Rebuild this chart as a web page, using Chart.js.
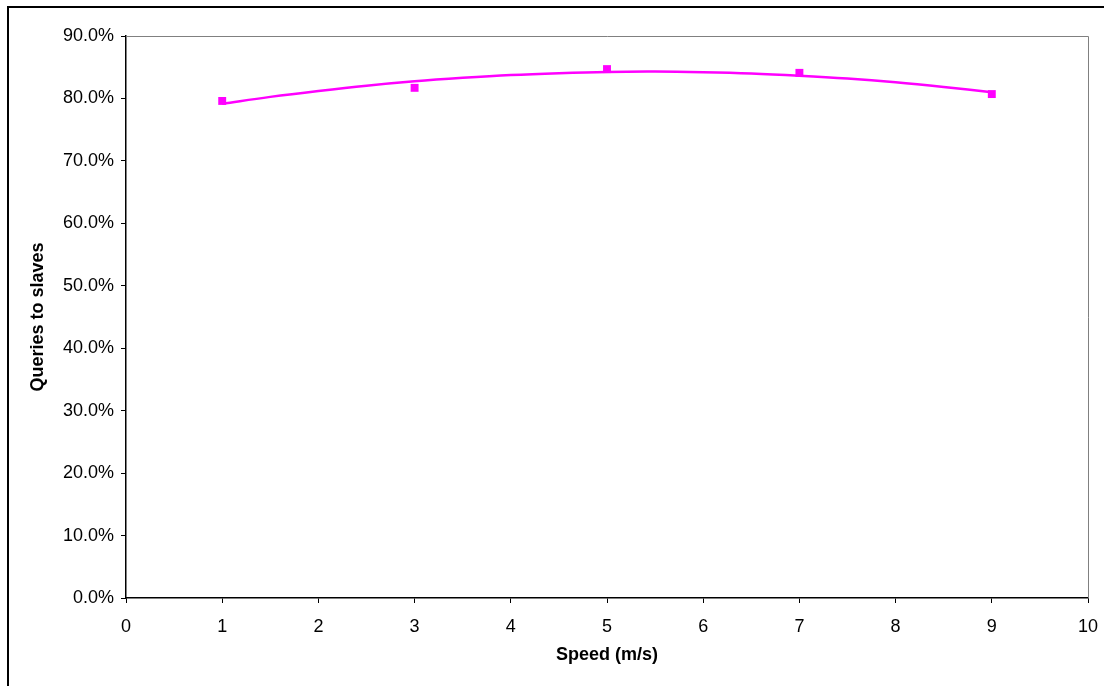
<!DOCTYPE html>
<html>
<head>
<meta charset="utf-8">
<script src="https://cdn.jsdelivr.net/npm/chart.js@4/dist/chart.umd.min.js"></script>
<style>
html,body{margin:0;padding:0;background:#fff;}
canvas{display:block;}
</style>
</head>
<body>
<canvas id="c" width="1104" height="686"></canvas>
<script>
// Measured points: speed (m/s) vs queries to slaves (%)
const speeds = [1, 3, 5, 7, 9];
const queriesPct = [79.6, 81.7, 84.7, 84.1, 80.7];
// Trend curve
const trendX = [1, 1.5, 2, 2.5, 3, 3.5, 4, 4.5, 5, 5.5, 6, 6.5, 7, 7.5, 8, 8.5, 9];
const trendY = [79.15, 80.25, 81.2, 82.05, 82.75, 83.3, 83.75, 84.05, 84.25, 84.3, 84.2, 84.0, 83.65, 83.2, 82.6, 81.85, 81.0];
const yTicks = [0, 10, 20, 30, 40, 50, 60, 70, 80, 90];
const xTicks = [0, 1, 2, 3, 4, 5, 6, 7, 8, 9, 10];
const xTitle = 'Speed (m/s)';
const yTitle = 'Queries to slaves';

const FONT = "'Liberation Sans', Arial, sans-serif";
const MAGENTA = '#FF00FF';

const framePlugin = {
  id: 'frame',
  beforeDatasetsDraw(chart) {
    const {ctx, chartArea: a} = chart;
    ctx.save();
    ctx.strokeStyle = '#808080';
    ctx.lineWidth = 1;
    ctx.beginPath();
    ctx.moveTo(a.left, a.top + 0.5);
    ctx.lineTo(a.right + 0.5, a.top + 0.5);
    ctx.lineTo(a.right + 0.5, a.bottom);
    ctx.stroke();
    ctx.restore();
  },
  afterDraw(chart) {
    const ctx = chart.ctx;
    ctx.save();
    ctx.strokeStyle = '#000';
    ctx.lineWidth = 2;
    ctx.beginPath();
    ctx.moveTo(8, chart.height + 5);
    ctx.lineTo(8, 7);
    ctx.lineTo(chart.width + 5, 7);
    ctx.stroke();
    ctx.restore();
  }
};

new Chart(document.getElementById('c'), {
  type: 'scatter',
  data: {
    datasets: [
      {
        type: 'line',
        data: trendX.map((x, i) => ({x, y: trendY[i]})),
        borderColor: MAGENTA,
        borderWidth: 2.5,
        pointRadius: 0,
        tension: 0.4,
        fill: false,
        order: 2
      },
      {
        data: speeds.map((x, i) => ({x, y: queriesPct[i]})),
        backgroundColor: MAGENTA,
        borderColor: MAGENTA,
        borderWidth: 0,
        pointStyle: 'rect',
        pointRadius: 5.6,
        showLine: false,
        order: 1
      }
    ]
  },
  options: {
    responsive: false,
    animation: false,
    layout: {padding: {left: 0, top: 36, right: 16, bottom: 0}},
    plugins: {legend: {display: false}, tooltip: {enabled: false}},
    scales: {
      x: {
        type: 'linear',
        min: 0, max: 10,
        afterBuildTicks(s) { s.ticks = xTicks.map(v => ({value: v})); },
        afterFit(s) { s.height = 88; s.paddingLeft = 0; s.paddingRight = 0; },
        border: {color: '#000', width: 1.5},
        grid: {drawOnChartArea: false, tickLength: 5, color: '#000', tickWidth: 1},
        ticks: {color: '#000', padding: 13, font: {family: FONT, size: 18}, maxRotation: 0},
        title: {display: true, text: xTitle, color: '#000', font: {family: FONT, size: 18, weight: 'bold'}, padding: {top: 0, bottom: 20}}
      },
      y: {
        type: 'linear',
        min: 0, max: 90,
        afterBuildTicks(s) { s.ticks = yTicks.map(v => ({value: v})); },
        afterFit(s) { s.width = 126; s.paddingTop = 0; s.paddingBottom = 0; },
        border: {color: '#000', width: 1.5},
        grid: {drawOnChartArea: false, tickLength: 5, color: '#000', tickWidth: 1},
        ticks: {color: '#000', padding: 7, font: {family: FONT, size: 18}, callback: v => Number(v).toFixed(1) + '%'},
        title: {display: true, text: yTitle, color: '#000', font: {family: FONT, size: 18, weight: 'bold'}, padding: {top: 27, bottom: 0}}
      }
    }
  },
  plugins: [framePlugin]
});
</script>
</body>
</html>
